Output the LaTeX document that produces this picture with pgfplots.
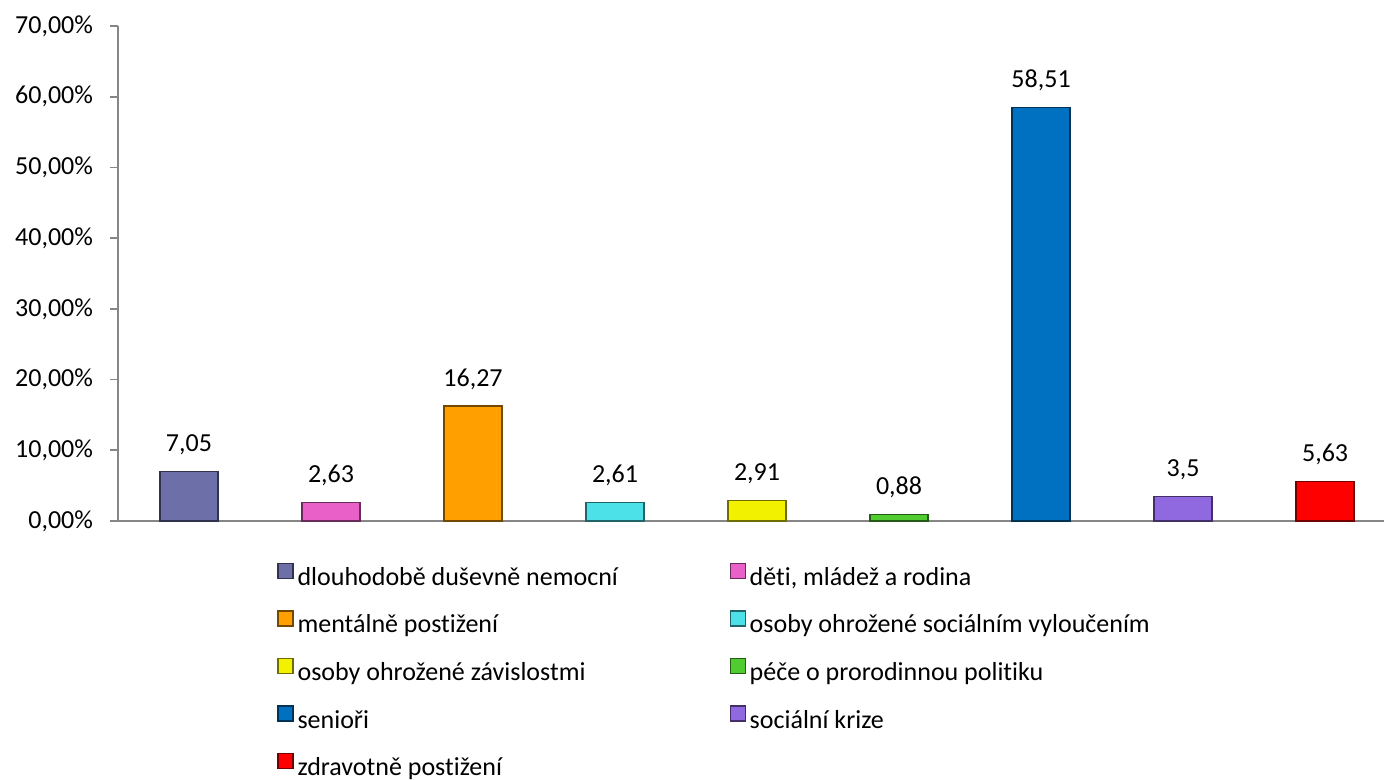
\documentclass[border=0pt]{standalone}
\usepackage{pgfplots}
\pgfplotsset{compat=1.18}
\usepackage{fontspec}
\setmainfont{Carlito}[Ligatures={NoCommon}]
\definecolor{c1}{HTML}{6C6FA8}
\definecolor{c2}{HTML}{E860C8}
\definecolor{c3}{HTML}{FFA000}
\definecolor{c4}{HTML}{4CE0E8}
\definecolor{c5}{HTML}{F2F200}
\definecolor{c6}{HTML}{50CC30}
\definecolor{c7}{HTML}{0070C0}
\definecolor{c8}{HTML}{9068E0}
\definecolor{c9}{HTML}{FF0000}
\definecolor{axgray}{HTML}{868686}
\newcommand{\lt}[1]{\makebox[214bp][l]{\rule[-10bp]{0pt}{27.5bp}#1}}
\begin{document}
\begin{tikzpicture}
\path[use as bounding box] (-59bp,-129.5bp) rectangle (633bp,260.5bp);
\begin{axis}[
  at={(0,0)}, anchor=south west,
  scale only axis, width=633bp, height=247.5bp,
  ybar, bar width=29bp, bar shift=0pt,
  xmin=-0.5, xmax=8.415, ymin=0, ymax=70,
  axis x line=bottom, axis y line=left,
  axis line style={axgray, line width=0.8bp, -},
  xtick=\empty,
  ytick={0,10,...,70},
  tick style={axgray, line width=0.8bp},
  tick align=outside, major tick length=4bp,
  yticklabel={\pgfmathprintnumber[fixed,fixed zerofill,precision=2,use comma,assume math mode=true]{\tick}\%},
  yticklabel style={font=\fontsize{13bp}{15bp}\selectfont, text=black, xshift=-5bp},
  nodes near coords={\pgfmathprintnumber[assume math mode=true,use comma]{\pgfplotspointmeta}},
  every node near coord/.append style={font=\fontsize{13bp}{15bp}\selectfont, text=black, inner sep=0pt, yshift=8bp},
  legend columns=2,
  legend cell align=left,
  legend style={draw=none, fill=none, at={(76.5bp,-10.5bp)}, anchor=north west,
     font=\fontsize{13bp}{15bp}\selectfont, row sep=0.8bp,
     /tikz/every even column/.append style={column sep=0pt}},
  legend image code/.code={\fill[#1] (0bp,-4.5bp) rectangle (7.5bp,3bp);},
]
\addplot[fill=c1, draw=c1!45!black, line width=0.6bp] coordinates {(0,7.05)};
\addlegendentry{\lt{dlouhodobě duševně nemocní}}
\addplot[fill=c2, draw=c2!45!black, line width=0.6bp] coordinates {(1,2.63)};
\addlegendentry{\lt{děti, mládež a rodina}}
\addplot[fill=c3, draw=c3!45!black, line width=0.6bp] coordinates {(2,16.27)};
\addlegendentry{\lt{mentálně postižení}}
\addplot[fill=c4, draw=c4!45!black, line width=0.6bp] coordinates {(3,2.61)};
\addlegendentry{\lt{osoby ohrožené sociálním vyloučením}}
\addplot[fill=c5, draw=c5!45!black, line width=0.6bp] coordinates {(4,2.91)};
\addlegendentry{\lt{osoby ohrožené závislostmi}}
\addplot[fill=c6, draw=c6!45!black, line width=0.6bp] coordinates {(5,0.88)};
\addlegendentry{\lt{péče o prorodinnou politiku}}
\addplot[fill=c7, draw=c7!45!black, line width=0.6bp] coordinates {(6,58.51)};
\addlegendentry{\lt{senioři}}
\addplot[fill=c8, draw=c8!45!black, line width=0.6bp] coordinates {(7,3.5)};
\addlegendentry{\lt{sociální krize}}
\addplot[fill=c9, draw=c9!45!black, line width=0.6bp] coordinates {(8,5.63)};
\addlegendentry{\lt{zdravotně postižení}}
\end{axis}
\end{tikzpicture}
\end{document}
